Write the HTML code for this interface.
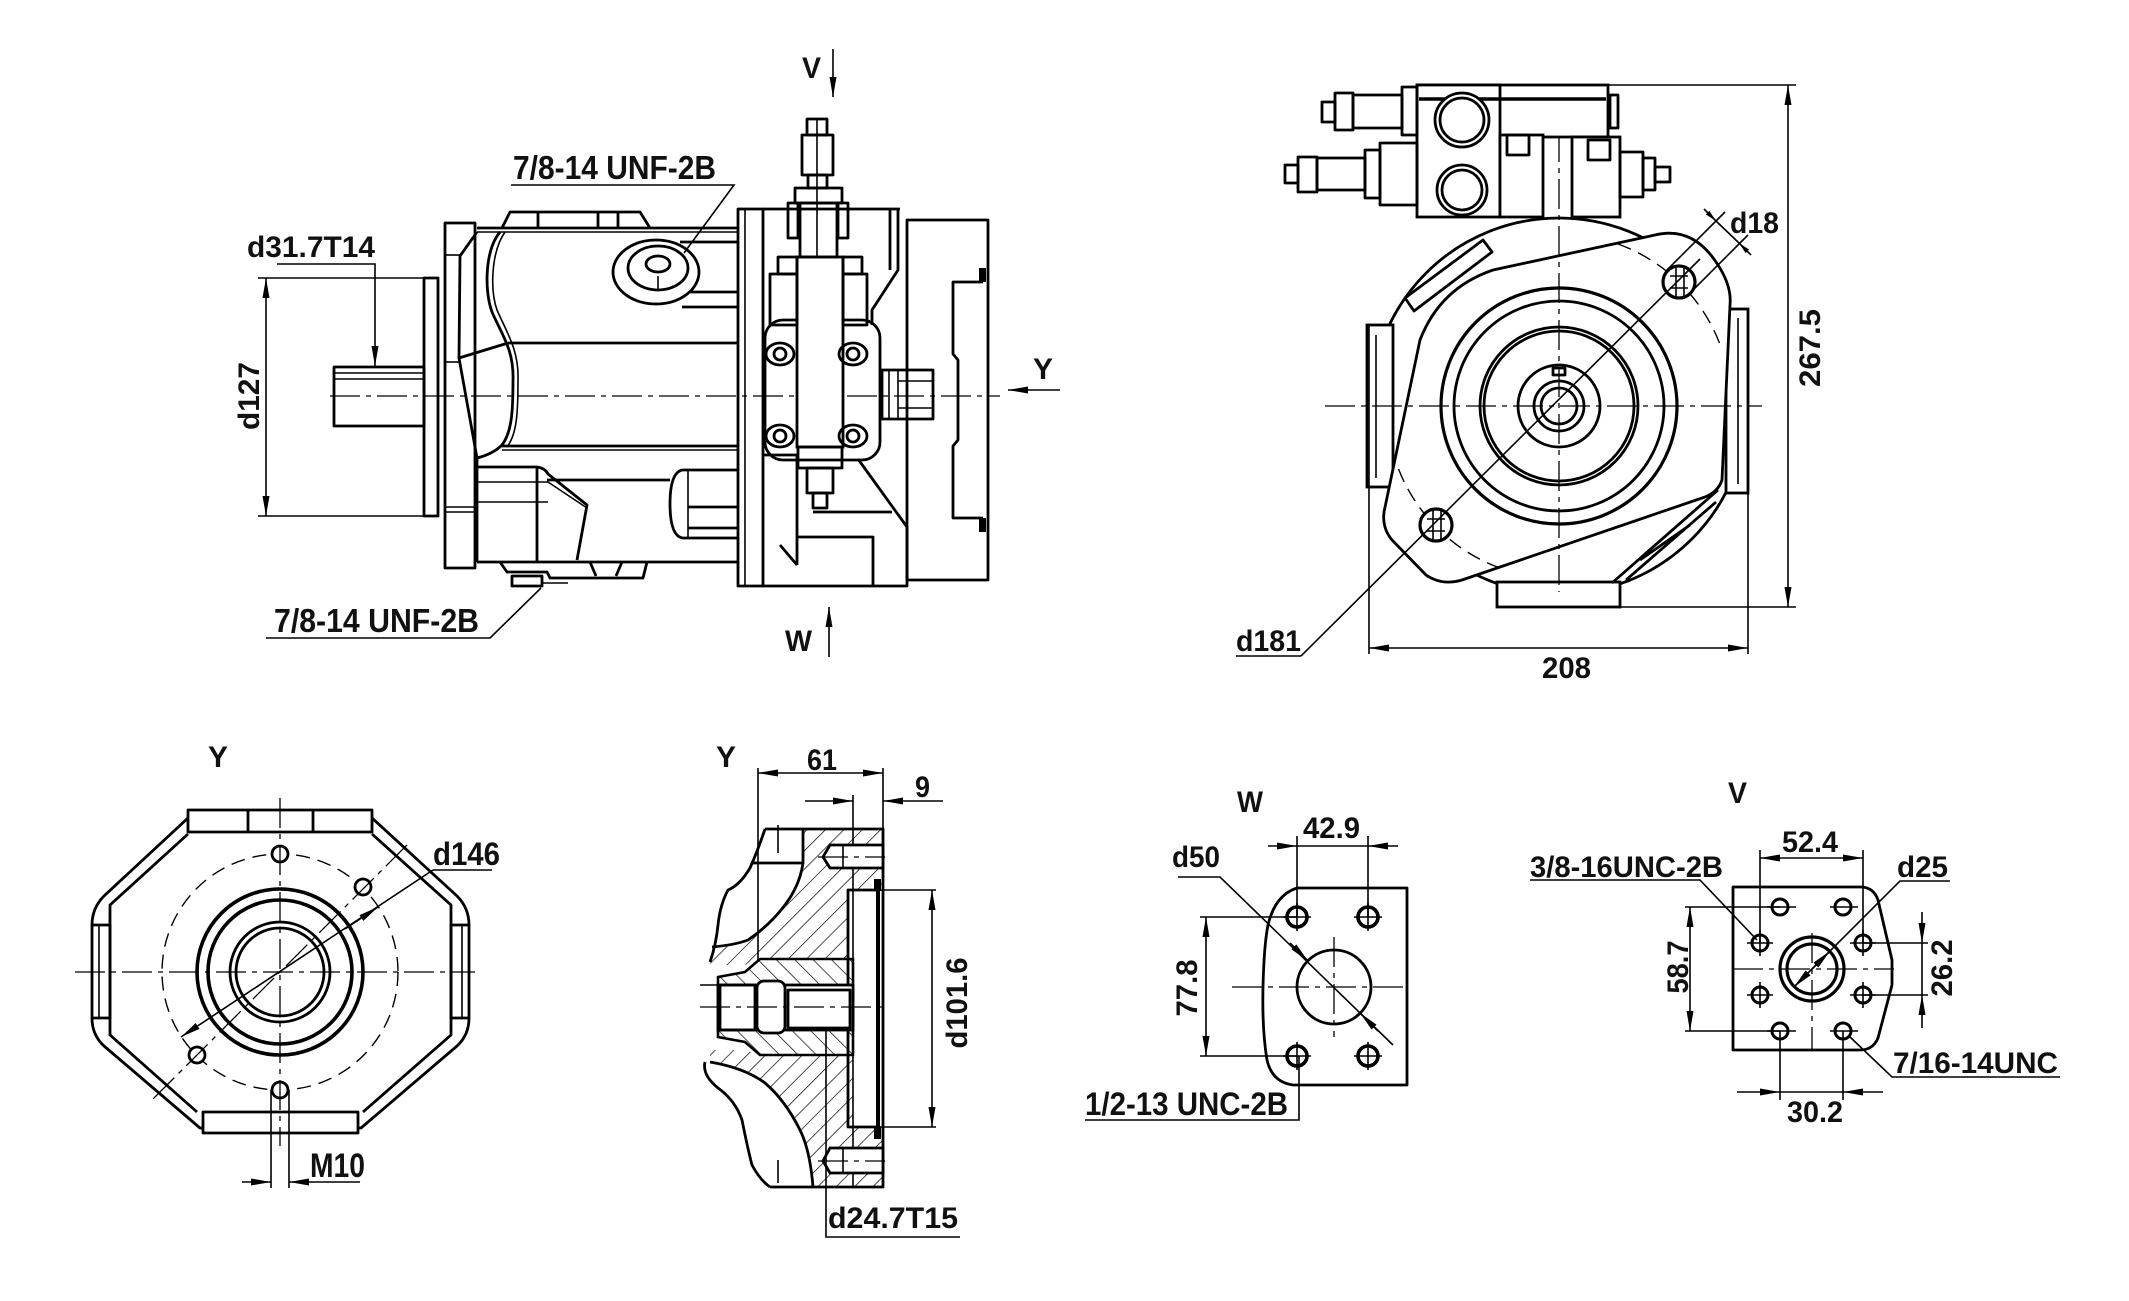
<!DOCTYPE html>
<html><head><meta charset="utf-8"><style>
html,body{margin:0;padding:0;background:#fff;}
svg{display:block;}
.o{fill:none;stroke:#000;stroke-width:2.8;stroke-linejoin:round;}
.t{fill:none;stroke:#000;stroke-width:1.6;}
.c{fill:none;stroke:#000;stroke-width:1.3;stroke-dasharray:30 6 5 6;}
.k{fill:none;stroke:#000;stroke-width:1.4;stroke-dasharray:14 8;}
.w{fill:#fff;stroke:#000;stroke-width:2.8;}
text{font-family:"Liberation Sans",Arial,sans-serif;font-weight:bold;font-size:30px;fill:#111;}
</style></head><body>
<svg width="2129" height="1301" viewBox="0 0 2129 1301" xmlns="http://www.w3.org/2000/svg">
<defs>
<marker id="a" viewBox="0 0 20 7" refX="20" refY="3.5" markerWidth="20" markerHeight="7" markerUnits="userSpaceOnUse" orient="auto-start-reverse"><path d="M0,0L20,3.5L0,7z" fill="#000"/></marker>
<marker id="s" viewBox="0 0 12 5" refX="12" refY="2.5" markerWidth="12" markerHeight="5" markerUnits="userSpaceOnUse" orient="auto-start-reverse"><path d="M0,0L12,2.5L0,5z" fill="#000"/></marker>
<pattern id="h1" patternUnits="userSpaceOnUse" width="13" height="13" patternTransform="rotate(45)"><line x1="0" y1="0" x2="0" y2="13" stroke="#000" stroke-width="1.4"/></pattern>
<pattern id="h2" patternUnits="userSpaceOnUse" width="13" height="13" patternTransform="rotate(-45)"><line x1="0" y1="0" x2="0" y2="13" stroke="#000" stroke-width="1.4"/></pattern>
</defs>
<rect width="2129" height="1301" fill="#fff"/>

<!-- ================= SIDE VIEW ================= -->
<line class="c" x1="330" y1="396" x2="1000" y2="396"/>
<!-- shaft -->
<rect class="o" x="334" y="367" width="90" height="59"/>
<line class="t" x1="334" y1="373" x2="424" y2="373"/>
<line class="t" x1="334" y1="379" x2="424" y2="379"/>
<!-- thin plate & flange -->
<rect class="o" x="424" y="278" width="14" height="238"/>
<rect class="o" x="445" y="223" width="30" height="345"/>
<line class="t" x1="445" y1="255" x2="460" y2="255"/>
<line class="t" x1="445" y1="362" x2="460" y2="362"/>
<line class="t" x1="445" y1="507" x2="477" y2="507"/>
<line class="t" x1="445" y1="512" x2="477" y2="512"/>
<!-- body -->
<line class="o" x1="477" y1="228" x2="737" y2="228"/>
<line class="t" x1="477" y1="232" x2="737" y2="232"/>
<path class="o" d="M502,228 L510,212 L640,212 L650,228"/>
<line class="o" x1="538" y1="213" x2="538" y2="228"/>
<line class="o" x1="598" y1="213" x2="598" y2="228"/>
<line class="o" x1="618" y1="213" x2="618" y2="228"/>
<path class="o" d="M500,232 C485,250 484,290 492,312 C502,335 514,350 513,380 C513,410 512,432 502,445 C495,452 485,456 477,458"/>
<path class="t" d="M505,232 C491,252 490,290 497,310 C507,333 519,350 518,380 C518,412 517,434 507,447"/>
<path class="o" d="M477,232 L460,256 L459,358 L477,458"/>
<path class="o" d="M459,358 L508,343"/>
<line class="o" x1="508" y1="343" x2="737" y2="343"/>
<line class="o" x1="502" y1="446" x2="737" y2="446"/>
<line class="t" x1="502" y1="450" x2="737" y2="450"/>
<!-- lower boss -->
<path class="o" d="M477,467 L537,467 Q545,468 548,474 L587,505 L577,560"/>
<line class="t" x1="477" y1="482" x2="548" y2="482"/>
<line class="t" x1="477" y1="502" x2="548" y2="502"/>
<line class="t" x1="548" y1="482" x2="587" y2="508"/>
<line class="o" x1="537" y1="467" x2="537" y2="562"/>
<line class="o" x1="547" y1="480" x2="670" y2="480"/>
<line class="o" x1="477" y1="458" x2="477" y2="562"/>
<!-- bottom -->
<line class="o" x1="477" y1="562" x2="737" y2="562"/>
<path class="o" d="M500,562 L507,572 L547,572 L550,578 L643,578 L647,562"/>
<path class="o" d="M590,562 L596,576 M622,562 L616,576"/>
<rect class="o" x="512" y="576" width="30" height="10"/>
<line class="t" x1="542" y1="583" x2="568" y2="583"/>
<!-- cylinder -->
<path class="o" d="M737,470 L682,470 Q670,473 670,504 Q670,535 682,538 L737,538"/>
<line class="t" x1="688" y1="470" x2="688" y2="538"/>
<line class="o" x1="688" y1="507" x2="737" y2="507"/>
<line class="o" x1="688" y1="528" x2="737" y2="528"/>
<!-- port boss -->
<ellipse class="o" cx="656" cy="272" rx="43" ry="32"/>
<ellipse class="o" cx="658" cy="268" rx="30" ry="22"/>
<ellipse class="o" cx="658" cy="264" rx="12" ry="8"/>
<line class="t" x1="658" y1="276" x2="658" y2="290"/>
<line class="o" x1="680" y1="242" x2="737" y2="242"/>
<line class="o" x1="690" y1="292" x2="737" y2="292"/>
<line class="o" x1="682" y1="307" x2="737" y2="307"/>
<!-- port plate -->
<rect class="o" x="738" y="209" width="25" height="377"/>
<line class="t" x1="745" y1="209" x2="745" y2="586"/>
<!-- rear housing -->
<path class="o" d="M763,209 L900,209 M890,209 L890,270 M898,209 L898,270 L872,310 L872,325"/>
<rect class="o" x="765" y="320" width="115" height="140" rx="18"/>
<path class="o" d="M858,459 L907,527 L907,586 L763,586"/>
<rect class="o" x="882" y="370" width="51" height="49"/>
<line class="t" x1="889" y1="370" x2="889" y2="419"/>
<line class="t" x1="898" y1="370" x2="898" y2="419"/>
<line class="t" x1="898" y1="381" x2="933" y2="381"/>
<line class="t" x1="898" y1="408" x2="933" y2="408"/>
<rect class="o" x="907" y="220" width="81" height="360"/>
<path class="o" d="M983,282 L953,282 L953,354 L958,360 L958,440 L953,446 L953,518 L983,518"/>
<rect x="979" y="268" width="7" height="14" fill="#000"/>
<rect x="979" y="518" width="7" height="14" fill="#000"/>
<!-- valve -->
<rect class="w" x="797" y="257" width="46" height="190"/>
<rect class="o" x="770" y="274" width="27" height="51"/>
<rect class="o" x="843" y="274" width="24" height="51"/>
<rect class="o" x="778" y="257" width="19" height="17"/>
<rect class="o" x="843" y="257" width="19" height="17"/>
<rect class="o" x="800" y="203" width="37" height="54"/>
<rect class="o" x="788" y="203" width="10" height="35"/>
<rect class="o" x="838" y="203" width="10" height="35"/>
<rect class="o" x="795" y="188" width="47" height="15"/>
<rect class="o" x="808" y="175" width="19" height="13"/>
<rect class="o" x="802" y="135" width="31" height="40"/>
<rect class="o" x="807" y="119" width="20" height="16"/>
<line class="t" x1="817" y1="119" x2="817" y2="257"/>
<g class="o">
<ellipse cx="780" cy="354" rx="14" ry="11"/><circle cx="780" cy="354" r="6"/>
<ellipse cx="853" cy="354" rx="14" ry="11"/><circle cx="853" cy="354" r="6"/>
<ellipse cx="780" cy="436" rx="14" ry="11"/><circle cx="780" cy="436" r="6"/>
<ellipse cx="853" cy="436" rx="14" ry="11"/><circle cx="853" cy="436" r="6"/>
</g>
<rect class="o" x="798" y="447" width="44" height="21"/>
<rect class="o" x="807" y="468" width="26" height="25"/>
<rect class="o" x="813" y="493" width="14" height="15"/>
<path class="o" d="M763,455 L797,455 L797,565 M780,545 L797,565"/>
<path class="o" d="M813,512 L892,512 M797,537 L873,537 L873,586"/>
<!-- side view dims -->
<text x="513" y="179" textLength="203" lengthAdjust="spacingAndGlyphs" style="font-size:33px">7/8-14 UNF-2B</text>
<path class="t" d="M511,185 L734,185 L684,253"/>
<text x="247" y="257" textLength="128" lengthAdjust="spacingAndGlyphs">d31.7T14</text>
<path class="t" d="M277,264 L375,264 L375,366" marker-end="url(#a)"/>
<line class="t" x1="266" y1="278" x2="266" y2="516" marker-start="url(#a)" marker-end="url(#a)"/>
<line class="t" x1="258" y1="278" x2="431" y2="278"/>
<line class="t" x1="258" y1="516" x2="438" y2="516"/>
<text transform="translate(259,396) rotate(-90)" text-anchor="middle" textLength="68" lengthAdjust="spacingAndGlyphs">d127</text>
<text x="274" y="632" textLength="205" lengthAdjust="spacingAndGlyphs" style="font-size:33px">7/8-14 UNF-2B</text>
<path class="t" d="M266,638 L490,638 L541,588"/>
<text x="802" y="78" textLength="19" lengthAdjust="spacingAndGlyphs">V</text>
<line class="t" x1="833" y1="49" x2="833" y2="97" marker-end="url(#a)"/>
<text x="785" y="651" textLength="27" lengthAdjust="spacingAndGlyphs">W</text>
<line class="t" x1="829" y1="657" x2="829" y2="607" marker-end="url(#a)"/>
<text x="1033" y="379" textLength="20" lengthAdjust="spacingAndGlyphs">Y</text>
<line class="t" x1="1060" y1="390" x2="1008" y2="390" marker-end="url(#a)"/>

<!-- ================= FRONT VIEW ================= -->
<circle class="w" cx="1559" cy="406" r="188"/>
<rect class="w" x="1367" y="325" width="26" height="162"/>
<line class="t" x1="1376" y1="335" x2="1376" y2="478"/>
<rect class="w" x="1726" y="309" width="22" height="184"/>
<line class="t" x1="1738" y1="318" x2="1738" y2="484"/>
<rect class="w" x="1497" y="582" width="123" height="25"/>
<path class="o" d="M1405,298 L1483,240 L1492,252 L1414,311 Z"/>
<path class="o" d="M1612,583 L1718,490 M1626,580 L1716,502 M1640,560 L1690,525"/>
<path class="w" d="M1420,340 Q1440,288 1493,270 L1655,235 Q1692,226 1716,262 Q1732,285 1730,305 L1722,480 Q1718,492 1705,497 L1462,580 Q1442,586 1426,575 L1392,540 Q1382,528 1384,512 Z"/>
<circle class="o" cx="1559" cy="406" r="118" style="stroke-width:3.2"/>
<circle class="o" cx="1559" cy="406" r="105"/>
<circle class="o" cx="1559" cy="406" r="79"/>
<circle class="o" cx="1559" cy="406" r="75"/>
<circle class="o" cx="1559" cy="406" r="41"/>
<circle class="o" cx="1559" cy="406" r="25"/>
<circle class="o" cx="1559" cy="406" r="18"/>
<rect class="o" x="1553" y="368" width="12" height="7"/>
<path class="k" d="M1618,244 A172,172 0 0 1 1721,347"/>
<path class="k" d="M1500,568 A172,172 0 0 1 1397,465"/>
<circle class="w" cx="1679" cy="282" r="16" style="stroke-width:3.2"/>
<path class="t" d="M1670,276 L1688,276 M1670,288 L1688,288 M1676,268 L1676,296 M1684,268 L1684,296"/>
<circle class="w" cx="1436" cy="525" r="16" style="stroke-width:3.2"/>
<path class="t" d="M1427,519 L1445,519 M1427,531 L1445,531 M1433,511 L1433,539 M1441,511 L1441,539"/>
<line class="c" x1="1325" y1="406" x2="1762" y2="406"/>
<line class="c" x1="1559" y1="85" x2="1559" y2="592"/>
<line class="t" x1="1301" y1="656" x2="1700" y2="259"/>
<!-- top valve block -->
<rect class="w" x="1417" y="85" width="191" height="52"/>
<rect class="w" x="1417" y="85" width="83" height="132"/>
<line x1="1419" y1="99" x2="1606" y2="99" stroke="#000" stroke-width="3.5"/>
<circle class="w" cx="1462" cy="120" r="27"/>
<circle class="o" cx="1462" cy="120" r="22"/>
<circle class="o" cx="1462" cy="190" r="25"/>
<circle class="o" cx="1462" cy="190" r="20"/>
<rect class="o" x="1610" y="95" width="8" height="33"/>
<rect class="o" x="1402" y="87" width="15" height="48"/>
<rect class="o" x="1353" y="95" width="49" height="33"/>
<rect class="o" x="1335" y="93" width="18" height="37"/>
<rect class="o" x="1322" y="102" width="13" height="20"/>
<rect class="o" x="1380" y="143" width="37" height="62"/>
<rect class="o" x="1365" y="150" width="15" height="48"/>
<rect class="o" x="1317" y="158" width="48" height="32"/>
<rect class="o" x="1298" y="157" width="19" height="35"/>
<rect class="o" x="1285" y="165" width="13" height="18"/>
<rect class="w" x="1500" y="135" width="43" height="82"/>
<rect class="o" x="1507" y="135" width="22" height="20"/>
<rect class="w" x="1572" y="137" width="48" height="80"/>
<rect class="o" x="1588" y="140" width="22" height="20"/>
<rect class="o" x="1620" y="152" width="23" height="45"/>
<rect class="o" x="1643" y="158" width="12" height="32"/>
<rect class="o" x="1655" y="167" width="15" height="15"/>
<!-- front dims -->
<line class="t" x1="1608" y1="85" x2="1796" y2="85"/>
<line class="t" x1="1620" y1="607" x2="1796" y2="607"/>
<line class="t" x1="1788" y1="85" x2="1788" y2="607" marker-start="url(#a)" marker-end="url(#a)"/>
<text transform="translate(1820,348) rotate(-90)" text-anchor="middle" textLength="78" lengthAdjust="spacingAndGlyphs">267.5</text>
<line class="t" x1="1369" y1="325" x2="1369" y2="654"/>
<line class="t" x1="1748" y1="309" x2="1748" y2="654"/>
<line class="t" x1="1369" y1="648" x2="1748" y2="648" marker-start="url(#a)" marker-end="url(#a)"/>
<text x="1542" y="678" textLength="49" lengthAdjust="spacingAndGlyphs">208</text>
<text x="1236" y="651" textLength="65" lengthAdjust="spacingAndGlyphs">d181</text>
<line class="t" x1="1236" y1="656" x2="1301" y2="656"/>
<text x="1730" y="233" textLength="49" lengthAdjust="spacingAndGlyphs">d18</text>
<line class="t" x1="1667" y1="270" x2="1725" y2="212"/>
<line class="t" x1="1690" y1="293" x2="1748" y2="235"/>
<line class="t" x1="1704" y1="209" x2="1716" y2="221" marker-end="url(#s)"/>
<line class="t" x1="1751" y1="255" x2="1739" y2="243" marker-end="url(#s)"/>
<line class="t" x1="1716" y1="221" x2="1739" y2="243"/>

<!-- ================= Y VIEW ================= -->
<text x="208" y="767" textLength="20" lengthAdjust="spacingAndGlyphs">Y</text>
<rect class="o" x="188" y="810" width="184" height="22"/>
<line class="o" x1="248" y1="810" x2="248" y2="832"/>
<line class="o" x1="313" y1="810" x2="313" y2="832"/>
<rect class="o" x="203" y="1112" width="155" height="21"/>
<rect class="o" x="92" y="925" width="18" height="93"/>
<line class="t" x1="99" y1="925" x2="99" y2="1018"/>
<rect class="o" x="451" y="925" width="18" height="93"/>
<line class="t" x1="462" y1="925" x2="462" y2="1018"/>
<path class="o" d="M188,818 L104,896 Q92,908 92,925 M92,1018 Q92,1035 104,1046 L200,1128 L203,1128"/>
<path class="o" d="M372,818 L457,896 Q469,908 469,925 M469,1018 Q469,1035 457,1046 L361,1128 L358,1128"/>
<path class="o" d="M188,834 L110,905 L110,1035 L197,1112"/>
<path class="o" d="M372,834 L451,905 L451,1035 L363,1112"/>
<circle class="k" cx="280" cy="972" r="118"/>
<circle class="o" cx="280" cy="972" r="83" style="stroke-width:3.6"/>
<circle class="o" cx="280" cy="972" r="72" style="stroke-width:3.6"/>
<circle class="o" cx="280" cy="972" r="50"/>
<circle class="o" cx="280" cy="972" r="44"/>
<g class="w"><circle cx="280" cy="854" r="8"/><circle cx="363" cy="887" r="8"/><circle cx="197" cy="1055" r="8"/><circle cx="280" cy="1090" r="8"/></g>
<line class="c" x1="75" y1="972" x2="475" y2="972"/>
<line class="c" x1="280" y1="798" x2="280" y2="1146"/>
<line class="c" x1="407" y1="845" x2="152" y2="1100"/>
<line class="t" x1="181" y1="1037" x2="433" y2="870" marker-start="url(#a)"/>
<line class="t" x1="345" y1="929" x2="378" y2="907" marker-end="url(#a)"/>
<line class="t" x1="433" y1="870" x2="492" y2="870"/>
<text x="433" y="865" textLength="67" lengthAdjust="spacingAndGlyphs" style="font-size:32px">d146</text>
<line class="t" x1="271" y1="1090" x2="271" y2="1188"/>
<line class="t" x1="289" y1="1090" x2="289" y2="1188"/>
<line class="t" x1="242" y1="1182" x2="271" y2="1182" marker-end="url(#a)"/>
<line class="t" x1="360" y1="1182" x2="289" y2="1182" marker-end="url(#a)"/>
<text x="310" y="1177" textLength="55" lengthAdjust="spacingAndGlyphs" style="font-size:34px">M10</text>

<!-- ================= SECTION ================= -->
<text x="716" y="767" textLength="20" lengthAdjust="spacingAndGlyphs">Y</text>
<text x="807" y="770" textLength="30" lengthAdjust="spacingAndGlyphs">61</text>
<line class="t" x1="758" y1="773" x2="883" y2="773" marker-start="url(#a)" marker-end="url(#a)"/>
<line class="t" x1="758" y1="768" x2="758" y2="962"/>
<line class="t" x1="883" y1="768" x2="883" y2="829"/>
<text x="915" y="797" textLength="15" lengthAdjust="spacingAndGlyphs">9</text>
<line class="t" x1="805" y1="801" x2="853" y2="801" marker-end="url(#a)"/>
<line class="t" x1="943" y1="801" x2="883" y2="801" marker-end="url(#a)"/>
<line class="t" x1="853" y1="795" x2="853" y2="1187"/>
<path d="M803,829 L883,829 L883,890 L848,890 L848,959 L760,959 L745,965 L710,965 L712,947 Q735,945 748,940 Q770,925 785,905 Q800,885 803,863 Z" fill="url(#h1)" stroke="none"/>
<path d="M710,1050 L745,1050 L760,1055 L853,1055 L853,1127 L883,1127 L883,1187 L813,1187 Q810,1150 800,1130 Q785,1100 765,1083 Q745,1068 710,1062 Z" fill="url(#h1)" stroke="none"/>
<path class="o" d="M765,829 L883,829 L883,1187 L770,1187"/>
<path class="o" d="M803,829 L803,863 L752,863"/>
<path class="o" d="M803,863 Q800,885 785,905 Q770,925 748,940 Q735,945 712,947"/>
<path class="o" d="M710,1062 Q745,1068 765,1083 Q785,1100 800,1130 Q810,1150 813,1187"/>
<path class="o" d="M765,829 Q758,850 750,868 Q740,885 728,890 Q720,905 718,925 Q716,945 710,962 M705,1062 Q702,1075 718,1088 Q735,1100 742,1120 Q748,1150 752,1165 Q760,1180 770,1187"/>
<rect class="o" x="848" y="890" width="30" height="237"/>
<line x1="878" y1="880" x2="878" y2="1138" stroke="#000" stroke-width="4"/>
<rect x="874" y="879" width="7" height="12" fill="#000"/>
<rect x="874" y="1127" width="7" height="12" fill="#000"/>
<path d="M718,977 L745,972 L760,959 L853,959 L853,1055 L760,1055 L745,1042 L718,1037 Z" fill="url(#h2)" stroke="#000" stroke-width="2.6"/>
<rect class="w" x="718" y="985" width="135" height="45"/>
<rect class="o" x="720" y="985" width="35" height="45"/>
<rect class="w" x="757" y="981" width="28" height="52" rx="7"/>
<rect class="o" x="788" y="990" width="62" height="38"/>
<line class="t" x1="700" y1="985" x2="718" y2="985"/>
<path class="w" d="M830,845 L883,845 L883,868 L830,868 L823,857 Z"/>
<line class="t" x1="843" y1="845" x2="843" y2="868"/>
<line class="c" x1="818" y1="857" x2="885" y2="857"/>
<path class="w" d="M830,1148 L883,1148 L883,1173 L830,1173 L823,1161 Z"/>
<line class="t" x1="843" y1="1148" x2="843" y2="1173"/>
<line class="c" x1="818" y1="1161" x2="885" y2="1161"/>
<line class="t" x1="778" y1="825" x2="778" y2="853"/>
<line class="t" x1="778" y1="1160" x2="778" y2="1183"/>
<line class="c" x1="700" y1="1007" x2="886" y2="1007"/>
<line class="t" x1="878" y1="890" x2="936" y2="890"/>
<line class="t" x1="878" y1="1127" x2="936" y2="1127"/>
<line class="t" x1="932" y1="890" x2="932" y2="1127" marker-start="url(#a)" marker-end="url(#a)"/>
<text transform="translate(967,1003) rotate(-90)" text-anchor="middle" textLength="91" lengthAdjust="spacingAndGlyphs">d101.6</text>
<path class="t" d="M826,1030 L826,1237 L960,1237"/>
<text x="828" y="1228" textLength="130" lengthAdjust="spacingAndGlyphs">d24.7T15</text>

<!-- ================= W VIEW ================= -->
<text x="1237" y="812" textLength="26" lengthAdjust="spacingAndGlyphs">W</text>
<text x="1303" y="838" textLength="57" lengthAdjust="spacingAndGlyphs">42.9</text>
<line class="t" x1="1297" y1="836" x2="1297" y2="917"/>
<line class="t" x1="1368" y1="836" x2="1368" y2="917"/>
<line class="t" x1="1297" y1="846" x2="1368" y2="846"/>
<line class="t" x1="1268" y1="846" x2="1297" y2="846" marker-end="url(#a)"/>
<line class="t" x1="1398" y1="846" x2="1368" y2="846" marker-end="url(#a)"/>
<path class="o" d="M1297,888 L1407,888 L1407,1085 L1293,1085 Q1272,1082 1267,1060 Q1262,1030 1263,987 Q1264,945 1268,925 Q1275,895 1297,888 Z"/>
<circle class="o" cx="1334" cy="987" r="37"/>
<line class="c" x1="1232" y1="987" x2="1407" y2="987"/>
<line class="c" x1="1334" y1="937" x2="1334" y2="1037"/>
<g class="o" style="stroke-width:3.6"><circle cx="1297" cy="917" r="10"/><circle cx="1368" cy="917" r="10"/><circle cx="1297" cy="1056" r="10"/><circle cx="1368" cy="1056" r="10"/></g>
<path class="t" d="M1283,917 L1311,917 M1297,903 L1297,931 M1354,917 L1382,917 M1368,903 L1368,931 M1283,1056 L1311,1056 M1297,1042 L1297,1070 M1354,1056 L1382,1056 M1368,1042 L1368,1070"/>
<text x="1172" y="867" textLength="48" lengthAdjust="spacingAndGlyphs">d50</text>
<path class="t" d="M1178,877 L1220,877 L1393,1045"/>
<line class="t" x1="1290" y1="943" x2="1308" y2="961" marker-end="url(#a)"/>
<line class="t" x1="1378" y1="1031" x2="1360" y2="1013" marker-end="url(#a)"/>
<line class="t" x1="1200" y1="917" x2="1297" y2="917"/>
<line class="t" x1="1200" y1="1056" x2="1297" y2="1056"/>
<line class="t" x1="1206" y1="917" x2="1206" y2="1056" marker-start="url(#a)" marker-end="url(#a)"/>
<text transform="translate(1197,988) rotate(-90)" text-anchor="middle" textLength="57" lengthAdjust="spacingAndGlyphs">77.8</text>
<text x="1085" y="1115" textLength="203" lengthAdjust="spacingAndGlyphs" style="font-size:32px">1/2-13 UNC-2B</text>
<path class="t" d="M1085,1120 L1299,1120 L1299,1056"/>

<!-- ================= V VIEW ================= -->
<text x="1728" y="803" textLength="19" lengthAdjust="spacingAndGlyphs">V</text>
<text x="1782" y="852" textLength="56" lengthAdjust="spacingAndGlyphs">52.4</text>
<line class="t" x1="1760" y1="850" x2="1760" y2="943"/>
<line class="t" x1="1863" y1="850" x2="1863" y2="943"/>
<line class="t" x1="1760" y1="858" x2="1863" y2="858" marker-start="url(#a)" marker-end="url(#a)"/>
<path class="o" d="M1733,887 L1862,887 Q1874,888 1878,900 L1892,960 L1892,985 L1878,1038 Q1873,1050 1860,1050 L1733,1050 Z"/>
<line class="c" x1="1733" y1="969" x2="1894" y2="969"/>
<line class="c" x1="1812" y1="933" x2="1812" y2="1050"/>
<circle class="o" cx="1812" cy="969" r="32" style="stroke-width:3.2"/>
<circle class="o" cx="1812" cy="969" r="25" style="stroke-width:3.2"/>
<g class="o" style="stroke-width:3"><circle cx="1780" cy="907" r="8"/><circle cx="1843" cy="907" r="8"/><circle cx="1760" cy="943" r="8"/><circle cx="1863" cy="943" r="8"/><circle cx="1760" cy="995" r="8"/><circle cx="1863" cy="995" r="8"/><circle cx="1780" cy="1031" r="8"/><circle cx="1843" cy="1031" r="8"/></g>
<path class="t" d="M1767,907 L1796,907 M1830,907 L1858,907 M1747,943 L1773,943 M1850,943 L1876,943 M1747,995 L1773,995 M1850,995 L1876,995 M1767,1031 L1796,1031 M1830,1031 L1858,1031 M1760,930 L1760,956 M1863,930 L1863,956 M1760,982 L1760,1008 M1863,982 L1863,1008"/>
<text x="1530" y="877" textLength="193" lengthAdjust="spacingAndGlyphs">3/8-16UNC-2B</text>
<path class="t" d="M1530,880 L1700,880 L1757,940"/>
<text x="1897" y="877" textLength="51" lengthAdjust="spacingAndGlyphs">d25</text>
<path class="t" d="M1950,881 L1900,881 L1794,987" marker-end="url(#a)"/>
<line class="t" x1="1812" y1="969" x2="1830" y2="951" marker-end="url(#a)"/>
<line class="t" x1="1685" y1="907" x2="1780" y2="907"/>
<line class="t" x1="1685" y1="1031" x2="1780" y2="1031"/>
<line class="t" x1="1690" y1="907" x2="1690" y2="1031" marker-start="url(#a)" marker-end="url(#a)"/>
<text transform="translate(1688,967) rotate(-90)" text-anchor="middle" textLength="53" lengthAdjust="spacingAndGlyphs">58.7</text>
<line class="t" x1="1863" y1="943" x2="1928" y2="943"/>
<line class="t" x1="1863" y1="995" x2="1928" y2="995"/>
<line class="t" x1="1922" y1="943" x2="1922" y2="995"/>
<line class="t" x1="1922" y1="912" x2="1922" y2="943" marker-end="url(#a)"/>
<line class="t" x1="1922" y1="1028" x2="1922" y2="995" marker-end="url(#a)"/>
<text transform="translate(1952,968) rotate(-90)" text-anchor="middle" textLength="57" lengthAdjust="spacingAndGlyphs">26.2</text>
<line class="t" x1="1780" y1="1031" x2="1780" y2="1100"/>
<line class="t" x1="1843" y1="1031" x2="1843" y2="1100"/>
<line class="t" x1="1780" y1="1092" x2="1843" y2="1092"/>
<line class="t" x1="1737" y1="1092" x2="1780" y2="1092" marker-end="url(#a)"/>
<line class="t" x1="1883" y1="1092" x2="1843" y2="1092" marker-end="url(#a)"/>
<text x="1787" y="1122" textLength="56" lengthAdjust="spacingAndGlyphs">30.2</text>
<text x="1893" y="1073" textLength="165" lengthAdjust="spacingAndGlyphs">7/16-14UNC</text>
<path class="t" d="M2060,1077 L1892,1077 L1850,1037"/>
</svg>
</body></html>
